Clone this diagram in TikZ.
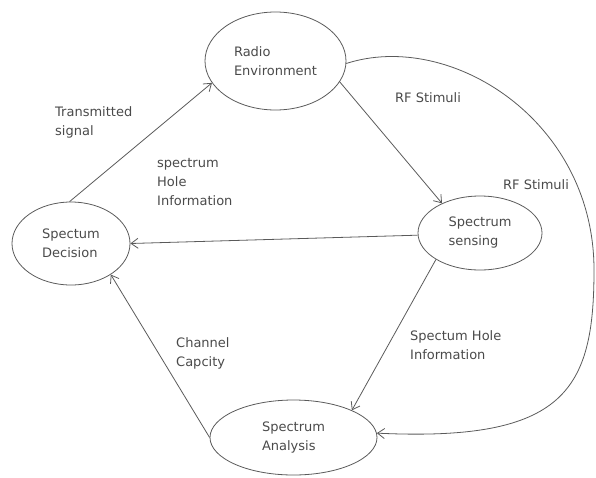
\documentclass[tikz,border=0pt]{standalone}
\usepackage{fontspec}
\setmainfont{DejaVu Sans}
\usepackage{tikz}
\usetikzlibrary{shapes.geometric,arrows.meta}
\definecolor{linegray}{HTML}{5A5A5A}
\definecolor{textgray}{HTML}{4A4A4A}
\tikzstyle{block} = [ellipse, draw=linegray, line width=0.8pt, inner sep=0pt, align=left, text=textgray, font=\fontsize{13}{19}\selectfont]
\tikzstyle{lbl} = [anchor=west, align=left, inner sep=0pt, text=textgray, font=\fontsize{13}{19}\selectfont]
\tikzstyle{arrow} = [draw=linegray, line width=0.8pt, -{Straight Barb[length=7pt,width=10pt]}]

\begin{document}
\begin{tikzpicture}[x=1pt,y=-1pt]
    \useasboundingbox (0,0) rectangle (596,477);
    \node (env)[block, minimum width=141pt, minimum height=98pt] at (275.5,61) {Radio\\Environment};
    \node (sense)[block, minimum width=124pt, minimum height=74pt] at (480,233) {Spectrum\\sensing};
    \node (dec)[block, minimum width=118pt, minimum height=83pt] at (71,243.5) {Spectum\\Decision};
    \node (ana)[block, minimum width=167pt, minimum height=75pt] at (293.5,437.5) {Spectrum\\Analysis};

    \node (trans)[lbl] at (55,122.5) {Transmitted\\signal};
    \node (holeA)[lbl] at (157,182) {spectrum\\Hole\\Information};
    \node (rfA)[lbl] at (395,98) {RF Stimuli};
    \node (rfB)[lbl] at (503,185) {RF Stimuli};
    \node (cap)[lbl] at (176,353) {Channel\\Capcity};
    \node (holeB)[lbl] at (410,345) {Spectum Hole\\Information};

    \draw[arrow] (dec.92)--(env.199);
    \draw[arrow] (env.342)--(sense.142);
    \draw[arrow] (sense.182)--(dec.0);
    \draw[arrow] (sense.211)--(ana.25);
    \draw[arrow] (ana.180)--(dec.322);
    \coordinate (far) at (594,270);
    \draw[arrow] (env.358) .. controls (450,30) and (594,120) .. (far) .. controls (594,390) and (565,442) .. (ana.3);
\end{tikzpicture}
\end{document}
